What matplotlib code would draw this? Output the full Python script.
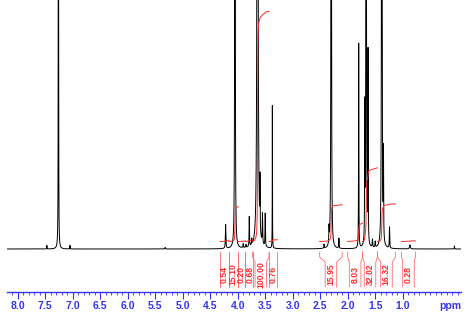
"""
1H NMR spectrum with integral regions (reference redraw).
Peaks are sums of Lorentzian lines; integrals are cumulative sums per region.
"""

import matplotlib
matplotlib.use("Agg")
import matplotlib.pyplot as plt
import numpy as np

COLOR_AXIS = "#3434ee"
COLOR_INT = "#ff2a2a"
COLOR_BRACKET = "#ff6a6a"

# peak positions (ppm), heights (px above baseline), half widths (ppm)
peak_ppm = [7.47, 7.26, 7.05, 5.32, 4.22, 4.05, 3.90, 3.85, 3.79, 3.745,
            3.64, 3.595, 3.55, 3.50, 3.37, 2.43, 2.34, 2.30, 2.16, 1.80,
            1.69, 1.665, 1.63, 1.55, 1.50, 1.38, 1.35, 1.24, 0.87, 0.06]
peak_height = [3.5, 3000, 3.5, 1.5, 24, 1500, 4, 3, 30, 6,
               8000, 52, 30, 33, 143, 4, 16, 1600, 10, 205,
               130, 1500, 190, 8, 6, 1500, 85, 21, 4, 3]
peak_width = [0.002, 0.0012, 0.002, 0.005, 0.005, 0.003, 0.005, 0.005, 0.004, 0.004,
              0.0025, 0.003, 0.004, 0.004, 0.002, 0.004, 0.004, 0.003, 0.004, 0.003,
              0.003, 0.003, 0.003, 0.005, 0.005, 0.0035, 0.003, 0.004, 0.008, 0.003]

# integral regions (ppm) and values
int_hi = [4.32, 4.16, 3.99, 3.86, 3.73, 3.43, 2.51, 2.00, 1.73, 1.46, 1.02]
int_lo = [4.16, 3.99, 3.86, 3.73, 3.43, 3.28, 2.10, 1.73, 1.46, 1.13, 0.77]
int_val = [0.54, 15.10, 0.20, 0.68, 100.00, 0.76, 15.95, 8.03, 32.02, 16.32, 0.28]

tick_labels = ["8.0", "7.5", "7.0", "6.5", "6.0", "5.5", "5.0", "4.5",
               "4.0", "3.5", "3.0", "2.5", "2.0", "1.5", "1.0"]

INT_SCALE = 2.3   # px per integral unit
INT_BASE = 7.5    # integral curves start above baseline
LABEL_GAP = 0.16  # min distance between integral labels, ppm


def spectrum(x):
    y = np.zeros_like(x)
    for p, h, w in zip(peak_ppm, peak_height, peak_width):
        y += h * w ** 2 / ((x - p) ** 2 + w ** 2)
    return y


x = np.linspace(8.25, -0.1, 40000)
y = spectrum(x)

# label positions: region centres, pushed apart where they crowd
label_x = [(hi + lo) / 2 for hi, lo in zip(int_hi, int_lo)]
for i in range(1, len(label_x)):
    d = label_x[i - 1] - label_x[i]
    if d < LABEL_GAP:
        label_x[i - 1] += (LABEL_GAP - d) / 2
        label_x[i] -= (LABEL_GAP - d) / 2

fig = plt.figure(figsize=(4.67, 3.15), dpi=100)
ax = fig.add_axes([7 / 467, 23 / 315, 454 / 467, 292 / 315])

ax.plot(x, y, color="black", linewidth=0.7, zorder=3)

for hi, lo, val, lx in zip(int_hi, int_lo, int_val, label_x):
    m = (x <= hi) & (x >= lo)
    xs = x[m]
    cum = np.cumsum(y[m])
    cum = cum / cum[-1]
    ax.plot(xs, INT_BASE + cum * val * INT_SCALE, color=COLOR_INT, linewidth=0.7, zorder=4)

    # bracket and label under the baseline
    c = (hi + lo) / 2
    bw = min((hi - lo) / 2, 0.105)
    for edge, box in ((hi, c + bw), (lo, c - bw)):
        ax.plot([edge, edge, box, box], [-3, -8, -13, -38],
                color=COLOR_BRACKET, linewidth=0.6, clip_on=False)
    ax.text(lx, -25.5, f"{val:.2f}", rotation=90, ha="center", va="center",
            color=COLOR_INT, fontsize=6.2, fontweight="bold", family="Liberation Sans")

ax.set_xlim(8.195, -0.06)
ax.set_ylim(-43, 249)

ax.set_xticks(np.arange(8.0, 0.99, -0.5))
ax.set_xticklabels(tick_labels)
ax.set_xticks(np.arange(8.1, -0.05, -0.1), minor=True)
ax.set_yticks([])
for s in ("top", "left", "right"):
    ax.spines[s].set_visible(False)
ax.spines["bottom"].set_color(COLOR_AXIS)
ax.spines["bottom"].set_linewidth(1.0)
ax.tick_params(axis="x", which="major", length=5, width=0.8, color=COLOR_AXIS,
               labelcolor=COLOR_AXIS, labelsize=7.5, pad=1.5)
ax.tick_params(axis="x", which="minor", length=2.5, width=0.6, color=COLOR_AXIS)
for lbl in ax.get_xticklabels():
    lbl.set_fontweight("bold")
    lbl.set_family("Liberation Sans")

ax.text(0.14, -0.03, "ppm", transform=ax.get_xaxis_transform(), ha="center", va="top",
        color=COLOR_AXIS, fontsize=7.5, fontweight="bold", family="Liberation Sans")

fig.savefig("out.png", facecolor="white")
plt.close(fig)
